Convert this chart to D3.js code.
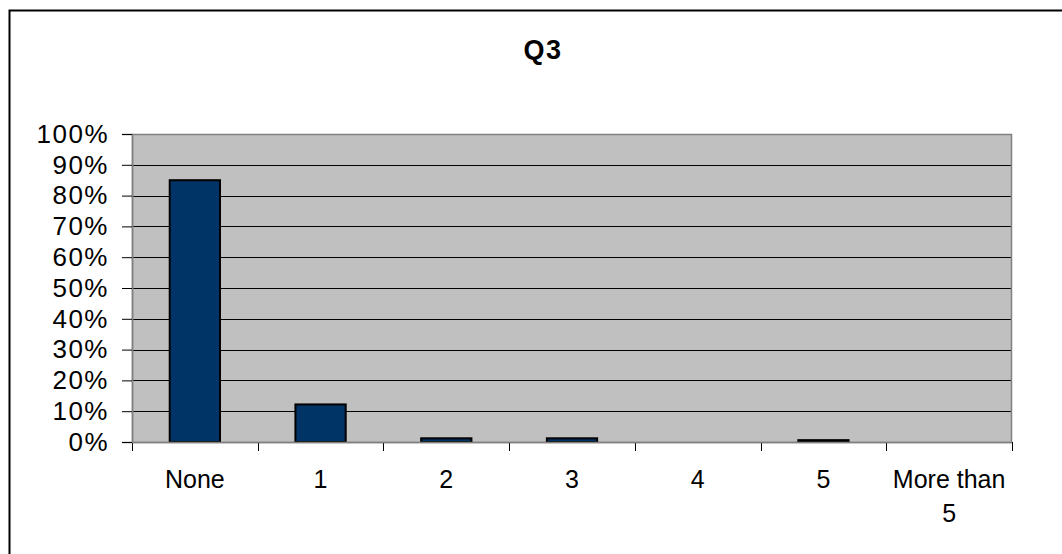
<!DOCTYPE html>
<html>
<head>
<meta charset="utf-8">
<script src="https://cdn.jsdelivr.net/npm/d3@7"></script>
<style>
  html, body { margin: 0; padding: 0; background: #fff; }
  svg { display: block; }
  text { font-family: Arial, "Liberation Sans", sans-serif; fill: #000; }
</style>
</head>
<body>
<svg id="chart" width="1062" height="554"></svg>
<script>
// Q3 responses: share of respondents per answer
const categories = ["None", "1", "2", "3", "4", "5", "More than 5"];
const shares = [0.85, 0.122, 0.012, 0.012, 0, 0.006, 0];
const yTicks = [0, 0.1, 0.2, 0.3, 0.4, 0.5, 0.6, 0.7, 0.8, 0.9, 1.0];
const chartTitle = "Q3";

const svg = d3.select("#chart");
const W = 1062, H = 554;
const plot = { left: 132, top: 134, right: 1012, bottom: 442 };

// outer chart frame (runs off the right and bottom edges)
svg.append("rect")
  .attr("x", 9.5).attr("y", 10.5)
  .attr("width", W + 20).attr("height", H + 20)
  .attr("fill", "#fff").attr("stroke", "#000").attr("stroke-width", 2);

const xCat = d3.scaleBand()
  .domain(categories)
  .range([plot.left, plot.right]);

const y = d3.scaleLinear().domain([0, 1]).range([plot.bottom, plot.top]);

// plot area background
svg.append("rect")
  .attr("x", plot.left).attr("y", plot.top)
  .attr("width", plot.right - plot.left).attr("height", plot.bottom - plot.top)
  .attr("fill", "#c0c0c0");

// horizontal gridlines
svg.append("g")
  .selectAll("line")
  .data(yTicks.filter(d => d > 0 && d < 1))
  .join("line")
  .attr("x1", plot.left).attr("x2", plot.right)
  .attr("y1", d => Math.round(y(d)) + 0.5).attr("y2", d => Math.round(y(d)) + 0.5)
  .attr("stroke", "#000").attr("stroke-width", 1);

// plot area border
svg.append("rect")
  .attr("x", plot.left + 0.5).attr("y", plot.top + 0.5)
  .attr("width", plot.right - plot.left - 1).attr("height", plot.bottom - plot.top)
  .attr("fill", "none").attr("stroke", "#808080").attr("stroke-width", 1.5);

// bars (40% of each category slot)
const barWidth = xCat.bandwidth() * 0.4;
svg.append("g")
  .selectAll("rect")
  .data(categories.map((c, i) => ({ c, v: shares[i] })).filter(d => d.v > 0))
  .join("rect")
  .attr("x", d => xCat(d.c) + (xCat.bandwidth() - barWidth) / 2)
  .attr("y", d => y(d.v))
  .attr("width", barWidth)
  .attr("height", d => plot.bottom - y(d.v))
  .attr("fill", "#003366")
  .attr("stroke", "#000").attr("stroke-width", 2);

// y axis
const yAxis = d3.axisLeft(y)
  .tickValues(yTicks)
  .tickFormat(d3.format(".0%"))
  .tickSize(10).tickPadding(13);
const gy = svg.append("g")
  .attr("transform", `translate(${plot.left},0)`)
  .call(yAxis);
gy.select(".domain").attr("stroke", "#808080").attr("stroke-width", 1.5);
gy.selectAll(".tick line").attr("stroke", "#000");
gy.selectAll(".tick text")
  .attr("font-size", 26)
  .attr("letter-spacing", 1.5)
  .attr("font-family", "Arial, 'Liberation Sans', sans-serif")
  .attr("fill", "#000");

// x axis: tick marks at category boundaries
const boundaries = categories.map(c => xCat(c)).concat([plot.right]);
svg.append("g")
  .selectAll("line")
  .data(boundaries)
  .join("line")
  .attr("x1", d => Math.round(d) + 0.5).attr("x2", d => Math.round(d) + 0.5)
  .attr("y1", plot.bottom).attr("y2", plot.bottom + 9)
  .attr("stroke", "#000");
svg.append("line")
  .attr("x1", plot.left).attr("x2", plot.right)
  .attr("y1", plot.bottom + 0.5).attr("y2", plot.bottom + 0.5)
  .attr("stroke", "#808080").attr("stroke-width", 1.5);

// x category labels, wrapped to two lines where needed
const xLabelLines = { "More than 5": ["More than", "5"] };
const xl = svg.append("g")
  .selectAll("text")
  .data(categories)
  .join("text")
  .attr("text-anchor", "middle")
  .attr("font-size", 25)
  .attr("x", d => xCat(d) + xCat.bandwidth() / 2)
  .attr("y", 488);
xl.each(function (d) {
  const lines = xLabelLines[d] || [d];
  const t = d3.select(this);
  lines.forEach((ln, i) => {
    t.append("tspan")
      .attr("x", xCat(d) + xCat.bandwidth() / 2)
      .attr("dy", i === 0 ? 0 : 34)
      .text(ln);
  });
});

// title
svg.append("text")
  .attr("x", 543).attr("y", 59)
  .attr("text-anchor", "middle")
  .attr("font-size", 27)
  .attr("letter-spacing", 1.5)
  .attr("font-weight", "bold")
  .text(chartTitle);
</script>
</body>
</html>
